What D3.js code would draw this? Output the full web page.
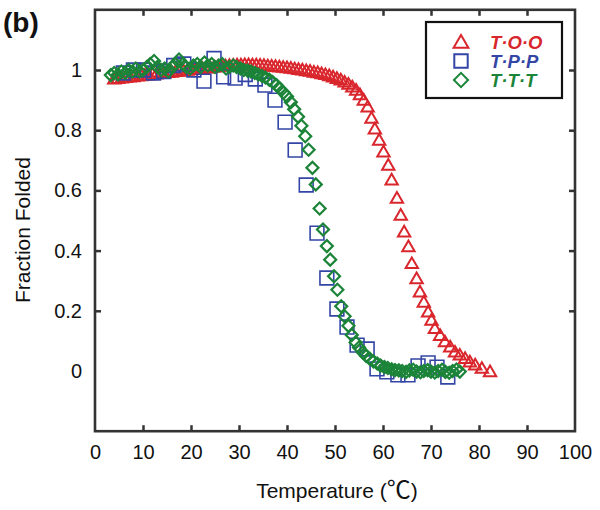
<!DOCTYPE html>
<html><head><meta charset="utf-8">
<script src="https://cdn.jsdelivr.net/npm/d3@7"></script>
<style>body{margin:0;background:#fff}svg{display:block}text{font-family:"Liberation Sans",Arial,Helvetica,sans-serif}</style>
</head><body><svg id="c" width="600" height="510"></svg>
<script>
// ---- data ----
const seriesNames = ["T·O·O", "T·P·P", "T·T·T"];
const xTicks = [0,10,20,30,40,50,60,70,80,90,100];
const yTicks = [0,0.2,0.4,0.6,0.8,1];
const yTickLabels = ["0","0.2","0.4","0.6","0.8","1"];

const tooT = [4.0,4.8,5.6,6.4,7.2,8.0,8.8,9.6,10.4,11.2,12.0,12.8,13.6,14.4,15.2,16.0,16.8,17.6,18.4,19.2,20.0,20.8,21.6,22.4,23.2,24.0,24.8,25.6,26.4,27.2,28.0,28.8,29.6,30.4,31.2,32.0,32.8,33.6,34.4,35.2,36.0,36.8,37.6,38.4,39.2,40.0,40.8,41.6,42.4,43.2,44.0,44.8,45.6,46.4,47.2,48.0,48.8,49.6,50.4,51.2,52.0,52.8,53.6,54.4,55.2,56.0,56.8,57.6,58.3,59.2,60.1,61.1,61.8,62.9,63.7,64.4,65.3,66.0,67.0,67.7,68.5,69.4,70.1,70.8,71.9,72.9,74.0,75.0,76.0,77.1,78.1,79.2,80.6,82.3];
const tooF = [0.970,0.972,0.974,0.975,0.977,0.978,0.980,0.981,0.983,0.984,0.986,0.987,0.989,0.990,0.992,0.993,0.995,0.996,0.998,0.999,1.001,1.002,1.004,1.005,1.007,1.008,1.010,1.011,1.013,1.014,1.015,1.016,1.017,1.017,1.018,1.018,1.017,1.017,1.016,1.015,1.014,1.013,1.012,1.010,1.009,1.008,1.006,1.004,1.002,1.000,0.998,0.996,0.993,0.991,0.988,0.985,0.981,0.977,0.972,0.967,0.960,0.953,0.944,0.933,0.918,0.900,0.877,0.840,0.804,0.767,0.728,0.684,0.635,0.574,0.518,0.462,0.413,0.357,0.307,0.263,0.229,0.196,0.169,0.141,0.118,0.097,0.080,0.063,0.053,0.042,0.030,0.020,0.009,-0.002];

const tppT = [5.9,8.0,10.1,12.2,14.3,16.4,18.5,20.6,22.7,24.8,26.8,29.2,31.3,33.4,35.4,37.5,39.6,41.7,44.0,46.25,48.3,50.4,52.5,54.6,56.7,58.75,60.8,63.1,65.2,67.3,69.4,71.25,73.5];
const tppF = [0.990,1.000,1.000,0.990,0.995,1.015,1.020,1.000,0.963,1.038,0.977,0.973,0.985,0.970,0.950,0.900,0.827,0.734,0.618,0.458,0.309,0.206,0.146,0.086,0.073,0.007,-0.003,-0.013,-0.013,0.017,0.027,0.013,-0.020];

const tttT = [3.3,4.0,4.8,5.5,6.3,7.0,7.8,8.5,9.3,10.0,10.8,11.5,12.3,13.0,13.8,14.5,15.3,16.0,16.8,17.5,18.3,19.0,19.8,20.5,21.3,22.0,22.8,23.5,24.3,25.0,25.8,26.5,27.3,28.0,28.8,29.5,30.3,31.0,31.8,32.5,33.3,34.0,34.8,35.5,36.3,37.0,37.8,38.5,39.3,40.0,40.8,41.5,42.3,43.0,43.8,44.5,45.3,46.0,46.8,47.5,48.3,49.0,49.8,50.5,51.3,52.0,52.8,53.5,54.3,55.0,55.8,56.5,57.3,58.0,58.8,59.5,60.3,61.0,61.8,62.5,63.3,64.0,64.8,65.5,66.3,67.0,67.8,68.5,69.3,70.0,70.8,71.5,72.3,73.0,73.8,74.5,75.3,76.0];
const tttF = [0.983,0.990,0.985,0.995,0.990,1.000,0.995,1.005,0.995,1.000,1.010,1.020,1.030,1.010,1.000,1.005,0.995,1.010,1.020,1.035,1.020,1.010,1.005,1.015,1.020,1.010,1.025,1.015,1.020,1.010,1.015,1.020,1.005,1.010,1.015,1.010,1.005,1.000,0.998,0.995,0.990,0.985,0.980,0.975,0.968,0.960,0.950,0.938,0.925,0.912,0.893,0.870,0.845,0.815,0.780,0.735,0.675,0.620,0.540,0.470,0.415,0.370,0.315,0.270,0.215,0.182,0.150,0.120,0.095,0.078,0.062,0.050,0.040,0.032,0.025,0.018,0.013,0.010,0.006,0.003,0.002,0.000,-0.003,0.002,0.004,-0.002,-0.004,0.000,0.003,-0.002,-0.005,0.000,0.004,-0.003,-0.006,0.000,0.005,-0.002];

// ---- layout ----
const svg = d3.select("#c");
const L = 95, R = 575, T = 9.8, B = 431.2;
const x = d3.scaleLinear().domain([0,100]).range([L,R]);
const y = d3.scaleLinear().domain([-0.2,1.2]).range([B,T]);
const colors = ["#d9262c","#3345a5","#1b8438"];
const font = '"Liberation Sans",Arial,Helvetica,sans-serif';

// axes with inward ticks
const tickLen = 6;
const gB = svg.append("g").attr("transform",`translate(0,${B})`)
  .call(d3.axisBottom(x).tickValues(xTicks).tickSizeInner(-tickLen).tickSizeOuter(0).tickPadding(14).tickFormat(d3.format("d")));
const gT = svg.append("g").attr("transform",`translate(0,${T})`)
  .call(d3.axisTop(x).tickValues(xTicks).tickSizeInner(-tickLen).tickSizeOuter(0).tickFormat(""));
const gL = svg.append("g").attr("transform",`translate(${L},0)`)
  .call(d3.axisLeft(y).tickValues(yTicks).tickSizeInner(-tickLen).tickSizeOuter(0).tickPadding(13).tickFormat((d,i)=>yTickLabels[i]));
const gR = svg.append("g").attr("transform",`translate(${R},0)`)
  .call(d3.axisRight(y).tickValues(yTicks).tickSizeInner(-tickLen).tickSizeOuter(0).tickFormat(""));
[gB,gT,gL,gR].forEach(g=>{
  g.select(".domain").remove();
  g.selectAll(".tick line").attr("stroke","#333").attr("stroke-width",2.5);
  g.selectAll(".tick line").filter(d=>d===0||d===100).remove();
  g.selectAll("text").attr("font-size",20).attr("fill","#111").attr("font-family",font);
});
gL.selectAll(".tick").filter(d=>d===0).select("line").remove();
svg.append("rect").attr("x",L).attr("y",T).attr("width",R-L).attr("height",B-T)
  .attr("fill","none").attr("stroke","#333").attr("stroke-width",2.6);

// markers
const tri = d3.symbol().type(d3.symbolTriangle).size(66);
const sq = d3.symbol().type(d3.symbolSquare).size(190);
const dia = d3.symbol().type(d3.symbolSquare).size(72);

const plot = svg.append("g");
plot.append("g").selectAll("path").data(d3.zip(tooT,tooF)).join("path")
  .attr("d",tri).attr("transform",d=>`translate(${x(d[0])},${y(d[1])+1})`)
  .attr("fill","none").attr("stroke",colors[0]).attr("stroke-width",2);
plot.append("g").selectAll("path").data(d3.zip(tppT,tppF)).join("path")
  .attr("d",sq).attr("transform",d=>`translate(${x(d[0])},${y(d[1])})`)
  .attr("fill","none").attr("stroke",colors[1]).attr("stroke-width",1.6);
plot.append("g").selectAll("path").data(d3.zip(tttT,tttF)).join("path")
  .attr("d",dia).attr("transform",d=>`translate(${x(d[0])},${y(d[1])}) rotate(45)`)
  .attr("fill","none").attr("stroke",colors[2]).attr("stroke-width",2.2);

// legend
const lg = svg.append("g");
lg.append("rect").attr("x",426).attr("y",22).attr("width",136).attr("height",76)
  .attr("fill","#fff").attr("stroke","#111").attr("stroke-width",2.2);
const legSyms = [d3.symbol().type(d3.symbolTriangle).size(95), d3.symbol().type(d3.symbolSquare).size(180), d3.symbol().type(d3.symbolSquare).size(100)];
const legY = [42,61,80];
seriesNames.forEach((n,i)=>{
  lg.append("path").attr("d",legSyms[i]())
    .attr("transform",`translate(461,${legY[i]+(i===0?1.5:0)})${i===2?" rotate(45)":""}`)
    .attr("fill","none").attr("stroke",colors[i]).attr("stroke-width",2);
  lg.append("text").attr("x",490).attr("y",legY[i]+6.5).text(n)
    .attr("fill",colors[i]).attr("font-size",18.5).attr("font-weight","bold").attr("font-style","italic").attr("font-family",font);
});

// labels
const xl = svg.append("text").attr("x",337).attr("y",498).attr("text-anchor","middle")
  .attr("font-size",21).attr("fill","#111").attr("font-family",font);
xl.append("tspan").text("Temperature (");
xl.append("tspan").attr("font-family",'"Noto Sans CJK JP","Noto Sans CJK SC",sans-serif').attr("font-size",24).text("℃");
xl.append("tspan").text(")");
svg.append("text").attr("transform","translate(30,230) rotate(-90)").attr("text-anchor","middle")
  .attr("font-size",21).attr("fill","#111").attr("font-family",font).text("Fraction Folded");
svg.append("text").attr("x",3).attr("y",32).attr("font-size",28).attr("font-weight","bold")
  .attr("fill","#111").attr("font-family",font).text("(b)");
</script></body></html>
